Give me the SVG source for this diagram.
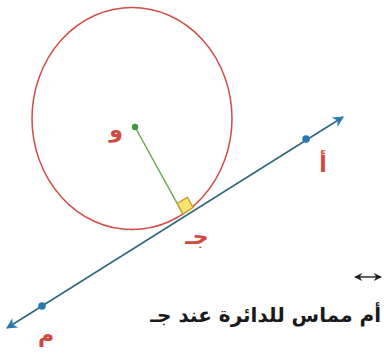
<svg xmlns="http://www.w3.org/2000/svg" width="384" height="360" viewBox="0 0 384 360">
<style>
.lbl{font-family:"DejaVu Sans",sans-serif;font-weight:bold;fill:#d2473f;font-size:22px}
.main{font-family:"DejaVu Sans",sans-serif;font-weight:bold;fill:#1a1a1a;font-size:20px}
.ln{stroke:#2f6a7c;stroke-width:1.6;fill:none}
</style>
<defs>
<marker id="ah" viewBox="0 0 10 10" refX="9" refY="5" markerWidth="13" markerHeight="11" orient="auto-start-reverse" markerUnits="userSpaceOnUse">
<path d="M0,0 L10,5 L0,10 L3,5 Z" fill="#2a78b2"/>
</marker>
<marker id="sh" viewBox="0 0 10 10" refX="9" refY="5" markerWidth="8" markerHeight="8" orient="auto-start-reverse" markerUnits="userSpaceOnUse">
<path d="M0,0 L10,5 L0,10 L3,5 Z" fill="#222"/>
</marker>
</defs>
<rect width="384" height="360" fill="#fff"/>
<g id="circle">
<ellipse cx="132" cy="118.5" rx="100" ry="111" fill="none" stroke="#d24b45" stroke-width="1.5"/>
</g>
<g id="connectors">
<line class="ln" x1="7" y1="328" x2="343" y2="117" marker-start="url(#ah)" marker-end="url(#ah)"/>
<line x1="135" y1="127" x2="183" y2="214" stroke="#6aa84f" stroke-width="1.5"/>
</g>
<g id="right-angle">
<path d="M177.2,203.5 L187.4,197.1 L193.2,207.6 L183,214 Z" fill="#f3e56c" stroke="#c79a2e" stroke-width="1.3"/>
</g>
<g id="O">
<circle cx="135" cy="127" r="3.2" fill="#3c9a3c"/>
<text class="lbl" x="116" y="137" text-anchor="middle">و</text>
</g>
<g id="C">
<text class="lbl" x="197" y="244" text-anchor="middle">جـ</text>
</g>
<g id="A">
<circle cx="306" cy="139" r="3.8" fill="#2a78b2"/>
<text class="lbl" x="323" y="172" text-anchor="middle">أ</text>
</g>
<g id="M">
<circle cx="42" cy="306" r="3.8" fill="#2a78b2"/>
<text class="lbl" x="46" y="342" text-anchor="middle">م</text>
</g>
<g id="caption">
<path d="M355,277 L381,277" stroke="#222" stroke-width="1.4" marker-start="url(#sh)" marker-end="url(#sh)"/>
<text class="main" x="381" y="322" direction="rtl" text-anchor="start">أم مماس للدائرة عند جـ</text>
</g>
</svg>
